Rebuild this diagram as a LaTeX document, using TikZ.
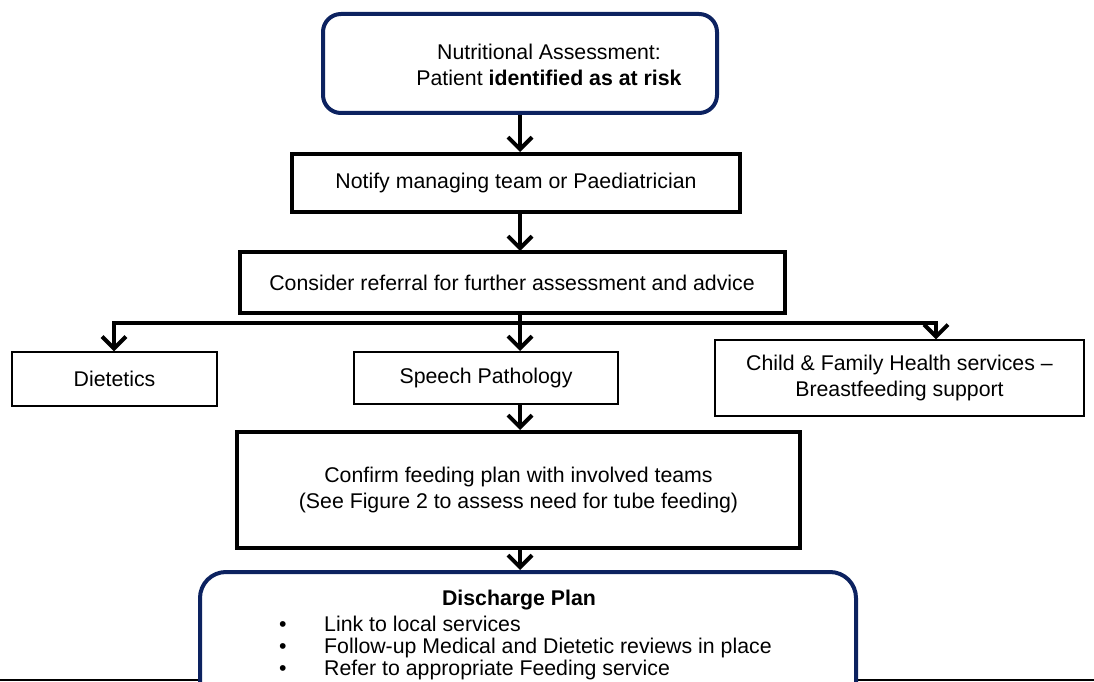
\documentclass[tikz,border=0pt]{standalone}
\usepackage{fontspec}
\setmainfont{Liberation Sans}
\usetikzlibrary{arrows.meta}
\definecolor{navy}{RGB}{12,34,96}
\tikzset{
  thickbox/.style={draw=black, line width=4pt, rectangle, fill=white},
  thinbox/.style={draw=black, line width=1.2pt, rectangle, fill=white},
  roundbox/.style={draw=navy, line width=4pt, rectangle, rounded corners=18pt, fill=white},
  txt/.style={font=\fontsize{21.3}{26}\selectfont, align=center, inner sep=0pt},
  arr/.style={draw=black, line width=4pt, -{Straight Barb[length=12pt,width=24pt]}},
  conn/.style={draw=black, line width=4pt}
}
\begin{document}
\begin{tikzpicture}[x=1pt,y=-1pt]
\clip (0,0) rectangle (1094,682);
\fill[white] (0,0) rectangle (1094,682);
% bottom rule
\draw[black, line width=2.5pt] (0,680) -- (1094,680);
% top box
\node[roundbox, minimum width=394pt, minimum height=99pt] (top) at (520,63.5) {};
\node[txt] (toptext) at (549,65) {Nutritional Assessment:\\Patient \textbf{identified as at risk}};
% notify
\node[thickbox, txt, minimum width=448pt, minimum height=58pt] (notify) at (516,183) {Notify managing team or Paediatrician};
% consider
\node[thickbox, txt, minimum width=545pt, minimum height=61pt] (consider) at (512,282.5) {Consider referral for further assessment and advice};
% services
\node[thinbox, txt, minimum width=205pt, minimum height=54pt] (diet) at (114.5,379) {Dietetics};
\node[thinbox, txt, minimum width=264pt, minimum height=52pt] (speech) at (486,378) {Speech Pathology};
\node[thinbox, txt, minimum width=369pt, minimum height=76pt] (child) at (899.5,378) {Child \& Family Health services --\\Breastfeeding support};
% confirm
\node[thickbox, txt, minimum width=563pt, minimum height=116pt] (confirm) at (518.5,490) {Confirm feeding plan with involved teams\\(See Figure 2 to assess need for tube feeding)};
% discharge
\node[roundbox, rounded corners=26pt, minimum width=656pt, minimum height=150pt] (discharge) at (528,647) {};
\node[txt, font=\fontsize{21.3}{26}\selectfont\bfseries] (dtitle) at (519,600) {Discharge Plan};
\node[txt, align=left, anchor=west, font=\fontsize{21.3}{22}\selectfont] (dlist) at (279,647.5)
  {\makebox[45pt][l]{\textbullet}Link to local services\\
   \makebox[45pt][l]{\textbullet}Follow-up Medical and Dietetic reviews in place\\
   \makebox[45pt][l]{\textbullet}Refer to appropriate Feeding service};
% connectors
\coordinate (branch) at (520,323);
\draw[arr] (top.south -| 520,0) -- (520,152);
\draw[arr] (520,212) -- (520,251);
\draw[conn] (520,312) -- (branch);
\draw[conn, line cap=rect] (114,323) -- (936,323);
\draw[arr] (114,321) -- (diet.north -| 114,0);
\draw[arr] (branch) -- (520,351);
\draw[arr] (936,321) -- (child.north -| 936,0);
\draw[arr] (520,404) -- (confirm.north -| 520,0);
\draw[arr] (520,548) -- (discharge.north -| 520,0);
\end{tikzpicture}
\end{document}
